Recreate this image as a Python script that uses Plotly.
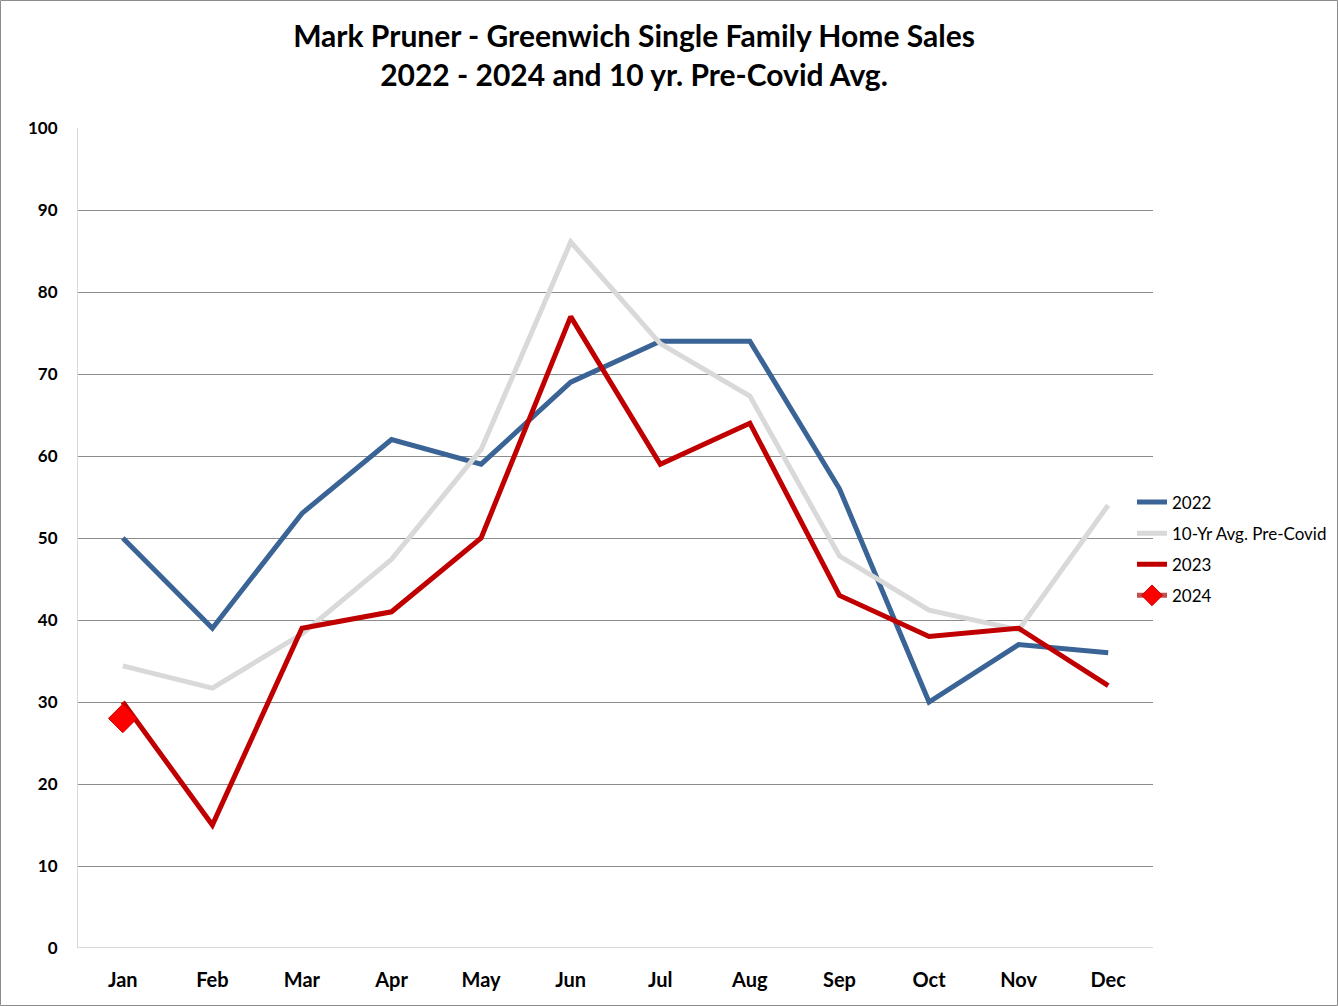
import plotly.graph_objects as go

months = ["Jan", "Feb", "Mar", "Apr", "May", "Jun", "Jul", "Aug", "Sep", "Oct", "Nov", "Dec"]
sales_2022 = [50, 39, 53, 62, 59, 69, 74, 74, 56, 30, 37, 36]
avg_precovid = [34.4, 31.7, 38.3, 47.4, 60.8, 86.1, 73.7, 67.3, 47.8, 41.2, 38.8, 54.0]
sales_2023 = [30, 15, 39, 41, 50, 77, 59, 64, 43, 38, 39, 32]
sales_2024 = [28]
y_ticks = [0, 10, 20, 30, 40, 50, 60, 70, 80, 90, 100]

FONT = "Lato, 'Open Sans', sans-serif"

fig = go.Figure()
fig.add_trace(go.Scatter(x=months, y=sales_2022, name="2022", mode="lines", legendgroup="a",
                         line=dict(color="#3A6496", width=5)))
fig.add_trace(go.Scatter(x=months, y=avg_precovid, name="10-Yr Avg. Pre-Covid", mode="lines", legendgroup="b",
                         line=dict(color="#D9D9D9", width=5)))
fig.add_trace(go.Scatter(x=months, y=sales_2023, name="2023", mode="lines", legendgroup="c",
                         line=dict(color="#C00000", width=5)))
fig.add_trace(go.Scatter(x=months[:len(sales_2024)], y=sales_2024, name="2024", mode="lines+markers", legendgroup="d",
                         line=dict(color="#C0504D", width=5),
                         marker=dict(symbol="diamond", size=22, color="#FF0000",
                                     line=dict(color="#D00000", width=1))))

fig.update_layout(
    width=1338, height=1006,
    paper_bgcolor="white", plot_bgcolor="white",
    margin=dict(l=78, r=185, t=128, b=58, autoexpand=False),
    title=dict(text="Mark Pruner - Greenwich Single Family Home Sales<br>2022 - 2024 and 10 yr. Pre-Covid Avg.",
               x=634 / 1338, xanchor="center", xref="container", yref="container", y=1 - 47 / 1006, yanchor="middle",
               font=dict(family=FONT, size=30, color="black", weight="bold")),
    font=dict(family=FONT, color="black"),
    showlegend=True,
    legend=dict(x=(1132 - 78) / 1075, xanchor="left", y=0.5 - 11 / 820, yanchor="middle",
                font=dict(family=FONT, size=17, color="black"),
                tracegroupgap=6, itemwidth=30, bgcolor="rgba(0,0,0,0)"),
    xaxis=dict(type="category", range=[-0.5, 11.5], showgrid=False,
               tickfont=dict(family=FONT, size=20, color="black", weight="bold"),
               ticks="outside", ticklen=14, tickcolor="rgba(0,0,0,0)",
               showline=False, zeroline=False),
    yaxis=dict(range=[0, 100], tickvals=y_ticks, showgrid=True, gridcolor="#8C8C8C", gridwidth=1,
               tickfont=dict(family=FONT, size=17, color="black", weight="bold"),
               zeroline=False, showline=True, linecolor="#D9D9D9", linewidth=1,
               ticks="outside", ticklen=16, tickcolor="rgba(0,0,0,0)"),
)
# baseline at 0 (light)
fig.add_shape(type="line", xref="paper", yref="y", x0=0, x1=1, y0=0, y1=0,
              line=dict(color="#D9D9D9", width=2), layer="below")
# outer chart border
fig.add_shape(type="rect", xref="paper", yref="paper", x0=-77.5 / 1075, x1=1 + 184.5 / 1075,
              y0=-57.5 / 820, y1=1 + 127.5 / 820, line=dict(color="#8C8C8C", width=1))

fig.write_html("out.html", config=dict(displayModeBar=False),
               post_script="document.body.style.margin='0';document.body.style.overflow='hidden';")
